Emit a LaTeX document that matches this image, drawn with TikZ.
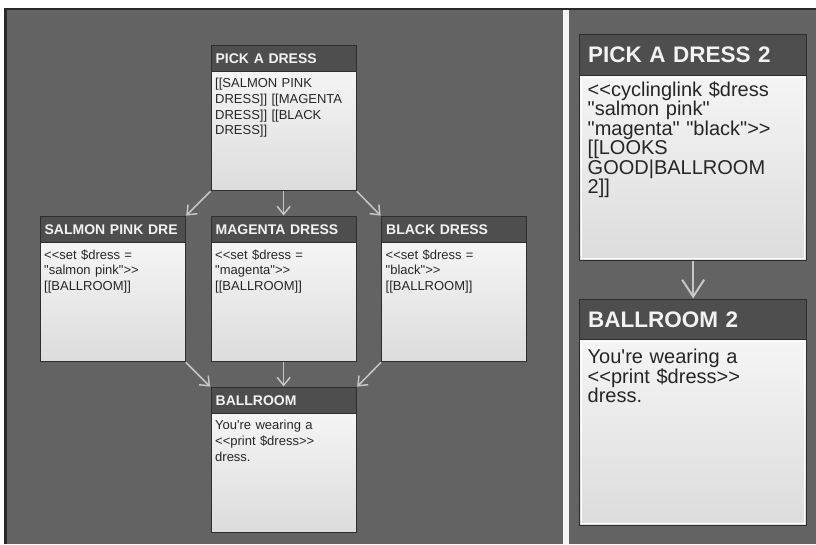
\documentclass[tikz,border=0pt]{standalone}
\usepackage{fontspec}
\setmainfont{Liberation Sans}[Ligatures=TeXOff]
\usepackage{xcolor}
\usetikzlibrary{arrows.meta,positioning}

\definecolor{panelgray}{HTML}{636363}
\definecolor{framedark}{HTML}{2A2A2A}
\definecolor{headgray}{HTML}{4E4E4E}
\definecolor{headtext}{HTML}{F2F2F2}
\definecolor{boxedge}{HTML}{2E2E2E}
\definecolor{bodytop}{HTML}{FAFAFA}
\definecolor{bodylow}{HTML}{DCDCDC}
\definecolor{textdark}{HTML}{262626}
\definecolor{linkgray}{HTML}{C6C6C6}

\tikzset{
  passage/.style={draw=boxedge, line width=1.3pt, top color=bodytop, bottom color=bodylow,
    anchor=north west, inner sep=0pt, minimum width=145pt, minimum height=145pt},
  passagehead/.style={draw=boxedge, line width=1.3pt, fill=headgray, text=headtext,
    anchor=north west, inner xsep=4.5pt, inner ysep=0pt, text width=136pt,
    minimum height=26pt, font=\bfseries\fontsize{14}{15}\selectfont},
  passagetext/.style={anchor=north west, inner xsep=4.5pt, inner ysep=6pt,
    text width=136pt, align=left, text=textdark, font=\fontsize{13}{15.6}\selectfont},
  bigpassage/.style={passage, minimum width=227pt, minimum height=226pt},
  bighead/.style={passagehead, inner xsep=8.5pt, text width=210pt, minimum height=41pt,
    font=\bfseries\fontsize{22.5}{24}\selectfont},
  bigtext/.style={passagetext, inner xsep=8.5pt, inner ysep=5pt, text width=210pt,
    font=\fontsize{20}{19.5}\selectfont},
  innerline/.style={draw=white, line width=0.9pt},
  link/.style={draw=linkgray, line width=1.5pt, shorten >=0.5pt,
    -{Straight Barb[length=8pt,width=13pt]}},
  biglink/.style={link, line width=2pt, -{Straight Barb[length=17pt,width=22pt]}},
}

\begin{document}
\begin{tikzpicture}[x=1pt, y=-1pt]
    % canvas, frame and the two panels
    \useasboundingbox (0,0) rectangle (816,544);
    \fill[white] (0,0) rectangle (816,544);
    \fill[framedark] (4,8) rectangle (816,544);
    \fill[panelgray] (7,10) rectangle (563,544);
    \fill[white!92!gray] (563,10) rectangle (569,544);
    \fill[panelgray] (569,10) rectangle (816,544);

    % left panel: one link per dress
    \node[passage] (pick) at (210.5,45) {};
    \node[passagehead] (pickh) at (pick.north west) {PICK A DRESS};
    \node[passagetext] (pickt) at (pickh.south west) {[[SALMON PINK\\DRESS]] [[MAGENTA\\DRESS]] [[BLACK\\DRESS]]};

    \node[passage] (salmon) at (39.5,216) {};
    \node[passagehead] (salmonh) at (salmon.north west) {SALMON PINK DRE};
    \node[passagetext] (salmont) at (salmonh.south west) {<<set \$dress =\\"salmon pink">>\\{}[[BALLROOM]]};

    \node[passage] (magenta) at (210.5,216) {};
    \node[passagehead] (magentah) at (magenta.north west) {MAGENTA DRESS};
    \node[passagetext] (magentat) at (magentah.south west) {<<set \$dress =\\"magenta">>\\{}[[BALLROOM]]};

    \node[passage] (black) at (381,216) {};
    \node[passagehead] (blackh) at (black.north west) {BLACK DRESS};
    \node[passagetext] (blackt) at (blackh.south west) {<<set \$dress =\\"black">>\\{}[[BALLROOM]]};

    \node[passage] (ballroom) at (210.5,387) {};
    \node[passagehead] (ballroomh) at (ballroom.north west) {BALLROOM};
    \node[passagetext] (ballroomt) at (ballroomh.south west) {You're wearing a\\<<print \$dress>>\\dress.};

    \draw[link] (pick.south west) -- (salmon.north east);
    \draw[link] (pick.south) -- (magenta.north);
    \draw[link] (pick.south east) -- (black.north west);
    \draw[link] (salmon.south east) -- (ballroom.north west);
    \draw[link] (magenta.south) -- (ballroom.north);
    \draw[link] (black.south west) -- (ballroom.north east);

    % right panel: cycling link
    \node[bigpassage] (pick2) at (579,34) {};
    \node[bighead] (pick2h) at (pick2.north west) {PICK A DRESS 2};
    \draw[innerline] ([shift={(2.5pt,-1pt)}]pick2h.south west) rectangle ([shift={(-2.5pt,2.5pt)}]pick2.south east);
    \node[bigtext] (pick2t) at (pick2h.south west) {<<cyclinglink \$dress\\"salmon pink"\\"magenta" "black">>\\{}[[LOOKS\\GOOD|BALLROOM\\2]]};

    \node[bigpassage] (ballroom2) at (579,299) {};
    \node[bighead, minimum height=40pt] (ballroom2h) at (ballroom2.north west) {BALLROOM 2};
    \draw[innerline] ([shift={(2.5pt,-1pt)}]ballroom2h.south west) rectangle ([shift={(-2.5pt,2.5pt)}]ballroom2.south east);
    \node[bigtext, yshift=-4pt] (ballroom2t) at (ballroom2h.south west) {You're wearing a\\<<print \$dress>>\\dress.};

    \draw[biglink] (pick2.south) -- (ballroom2.north);
\end{tikzpicture}
\end{document}
